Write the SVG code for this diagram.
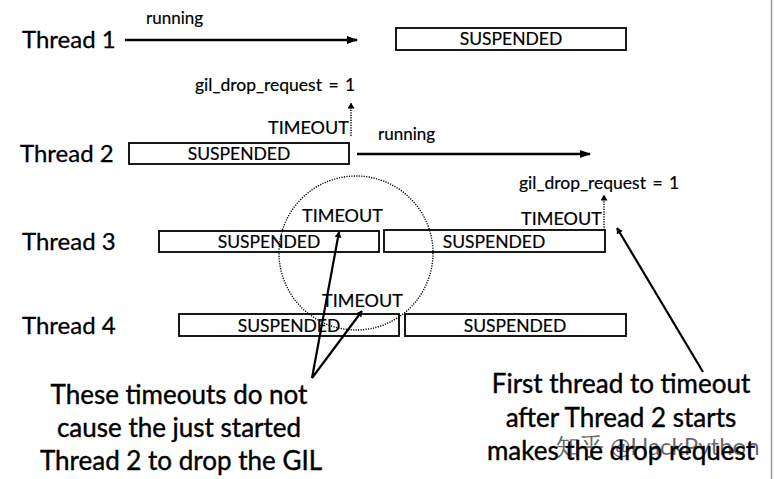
<svg xmlns="http://www.w3.org/2000/svg" width="774" height="479" viewBox="0 0 774 479">
<defs>
<marker id="ah" markerUnits="userSpaceOnUse" viewBox="0 0 11 8" refX="10" refY="4" markerWidth="11" markerHeight="8" orient="auto">
<path d="M0,0 L11,4 L0,8 z" fill="#000"/>
</marker>
<marker id="sah" markerUnits="userSpaceOnUse" viewBox="0 0 6 7" refX="5.5" refY="3.5" markerWidth="6" markerHeight="7" orient="auto">
<path d="M0,0 L6,3.5 L0,7 z" fill="#000"/>
</marker>
</defs>
<style>
text{font-family:Lato,"Noto Sans",sans-serif;fill:#000}
.th{font-size:24px;stroke:#000;stroke-width:0.3}
.lb{font-size:17px;stroke:#000;stroke-width:0.2}
.gil{font-size:17.5px;word-spacing:2px;stroke:#000;stroke-width:0.2}
.sus{font-size:17.5px;text-anchor:middle;stroke:#000;stroke-width:0.2}
.to{font-size:18px;stroke:#000;stroke-width:0.2}
.big{font-size:26px;text-anchor:middle;stroke:#000;stroke-width:0.4}
.box{fill:#fff;stroke:#000;stroke-width:1.8}
.arr{stroke:#000;stroke-width:2.5;fill:none}
.dot{stroke:#000;stroke-width:1.4;stroke-dasharray:1.2 1.3;fill:none}
.call{stroke:#000;stroke-width:2.2;fill:none}
</style>
<rect width="774" height="479" fill="#fff"/>
<line x1="771.5" y1="0" x2="771.5" y2="479" stroke="#999" stroke-width="1.5"/>

<g id="thread1">
<text class="th" x="22" y="48">Thread 1</text>
<text class="lb" x="146" y="24">running</text>
<rect class="box" x="396" y="28" width="230" height="22"/>
<text class="sus" x="511" y="45">SUSPENDED</text>
<text class="gil" x="195" y="91">gil_drop_request = 1</text>
</g>

<g id="thread2">
<text class="th" x="20" y="162">Thread 2</text>
<rect class="box" x="129" y="143" width="220" height="21"/>
<text class="sus" x="239" y="160">SUSPENDED</text>
<text class="to" x="268" y="134">TIMEOUT</text>
<text class="lb" x="378" y="140">running</text>
<text class="gil" x="519" y="189">gil_drop_request = 1</text>
</g>

<g id="thread3">
<text class="th" x="22" y="250">Thread 3</text>
<rect class="box" x="159" y="231" width="220" height="21"/>
<text class="sus" x="269" y="248">SUSPENDED</text>
<rect class="box" x="384" y="230" width="221" height="22"/>
<text class="sus" x="494" y="248">SUSPENDED</text>
<text class="to" x="302" y="222">TIMEOUT</text>
<text class="to" x="521" y="225">TIMEOUT</text>
</g>

<g id="thread4">
<text class="th" x="22" y="334">Thread 4</text>
<rect class="box" x="179" y="314" width="220" height="22"/>
<text class="sus" x="289" y="332">SUSPENDED</text>
<rect class="box" x="405" y="314" width="221" height="22"/>
<text class="sus" x="515" y="332">SUSPENDED</text>
<text class="to" x="322" y="307">TIMEOUT</text>
</g>

<g id="note-left">
<text class="big" x="179" y="404">These timeouts do not</text>
<text class="big" x="179" y="437">cause the just started</text>
<text class="big" x="181" y="470">Thread 2 to drop the GIL</text>
</g>

<g id="note-right">
<text class="big" x="621" y="393">First thread to timeout</text>
<text class="big" x="621" y="427">after Thread 2 starts</text>
<text class="big" x="621" y="460">makes the drop request</text>
</g>

<g id="connectors">
<line class="arr" x1="125" y1="40" x2="357" y2="40" marker-end="url(#ah)"/>
<line class="arr" x1="357" y1="154" x2="590" y2="154" marker-end="url(#ah)"/>
<line class="dot" x1="351" y1="136" x2="351" y2="103" marker-end="url(#sah)"/>
<line class="dot" x1="604" y1="230" x2="604" y2="195" marker-end="url(#sah)"/>
<circle class="dot" cx="356" cy="253" r="77"/>
<line class="call" x1="312" y1="378" x2="339" y2="232" marker-end="url(#sah)"/>
<line class="call" x1="312" y1="378" x2="362" y2="311" marker-end="url(#sah)"/>
<line class="call" x1="703" y1="372" x2="617" y2="228" marker-end="url(#sah)"/>
</g>

<text x="556" y="455" font-size="24" font-family="Lato,'Noto Sans CJK SC',sans-serif" fill="#bbb" fill-opacity="0.6">知乎 @HackPython</text>
</svg>
